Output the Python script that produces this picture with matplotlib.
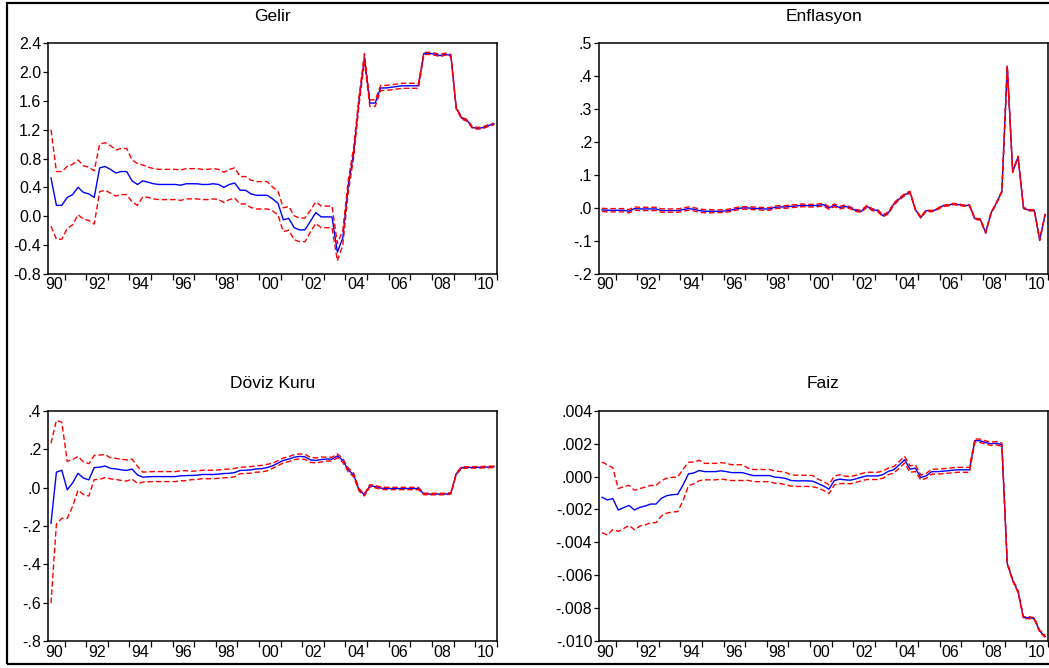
import matplotlib
matplotlib.use("Agg")
import matplotlib.pyplot as plt
import numpy as np
import pandas as pd
from matplotlib.patches import Rectangle

plt.rcParams["font.family"] = ["Liberation Sans", "DejaVu Sans"]

# quarterly sample 1990Q2 - 2010Q4 (recursive coefficient estimates)
quarters = pd.period_range("1990Q2", "2010Q4", freq="Q")

gelir = [0.53, 0.15, 0.15, 0.26, 0.30, 0.40, 0.33, 0.31, 0.26, 0.67,
         0.69, 0.65, 0.60, 0.62, 0.62, 0.49, 0.44, 0.49, 0.47, 0.45,
         0.44, 0.44, 0.44, 0.44, 0.43, 0.45, 0.45, 0.45, 0.44, 0.44,
         0.45, 0.44, 0.40, 0.44, 0.46, 0.36, 0.36, 0.31, 0.29, 0.29,
         0.29, 0.24, 0.18, -0.05, -0.03, -0.16, -0.19, -0.19, -0.07, 0.05,
         -0.01, -0.01, -0.01, -0.50, -0.30, 0.41, 0.88, 1.60, 2.20, 1.57,
         1.57, 1.78, 1.78, 1.79, 1.80, 1.81, 1.81, 1.81, 1.81, 2.26,
         2.26, 2.25, 2.23, 2.25, 2.23, 1.50, 1.36, 1.33, 1.23, 1.22,
         1.23, 1.26, 1.28]
gelir_2se = [0.67, 0.47, 0.47, 0.43, 0.42, 0.38, 0.37, 0.37, 0.37, 0.33,
             0.33, 0.33, 0.32, 0.32, 0.32, 0.29, 0.29, 0.22, 0.21, 0.21,
             0.21, 0.21, 0.21, 0.21, 0.21, 0.21, 0.21, 0.21, 0.21, 0.21,
             0.21, 0.21, 0.21, 0.21, 0.21, 0.19, 0.19, 0.19, 0.19, 0.19,
             0.19, 0.165, 0.165, 0.165, 0.165, 0.165, 0.165, 0.165, 0.15, 0.15,
             0.15, 0.15, 0.15, 0.12, 0.10, 0.08, 0.07, 0.06, 0.055, 0.046,
             0.045, 0.035, 0.035, 0.035, 0.035, 0.035, 0.035, 0.035, 0.035, 0.015,
             0.015, 0.015, 0.015, 0.015, 0.015, 0.012, 0.012, 0.012, 0.012, 0.012,
             0.012, 0.012, 0.012]

enflasyon = [-0.006, -0.007, -0.007, -0.007, -0.007, -0.010, -0.002, -0.003, -0.003, -0.003,
             -0.003, -0.008, -0.008, -0.008, -0.008, -0.005, -0.002, -0.004, -0.008, -0.010,
             -0.010, -0.010, -0.010, -0.009, -0.006, -0.002, 0.000, 0.000, -0.001, -0.002,
             -0.003, -0.003, 0.002, 0.003, 0.003, 0.005, 0.006, 0.008, 0.007, 0.007,
             0.008, 0.010, 0.000, 0.008, 0.001, 0.005, 0.000, -0.008, -0.010, 0.005,
             -0.005, -0.008, -0.024, -0.015, 0.012, 0.027, 0.040, 0.048, -0.005, -0.029,
             -0.008, -0.010, -0.004, 0.006, 0.008, 0.012, 0.010, 0.007, 0.008, -0.033,
             -0.035, -0.075, -0.015, 0.015, 0.050, 0.430, 0.110, 0.155, 0.000, -0.007,
             -0.007, -0.097, -0.020]
enflasyon_2se = [0.005] * 21 + [0.004] * 25 + [0.003] * 12 + [0.002] * 25

doviz = [-0.186, 0.080, 0.090, -0.012, 0.024, 0.074, 0.049, 0.040, 0.104, 0.106,
         0.112, 0.100, 0.097, 0.092, 0.089, 0.096, 0.066, 0.054, 0.056, 0.057,
         0.057, 0.057, 0.057, 0.057, 0.061, 0.062, 0.063, 0.064, 0.068, 0.068,
         0.068, 0.070, 0.073, 0.074, 0.078, 0.089, 0.090, 0.092, 0.097, 0.098,
         0.104, 0.113, 0.127, 0.141, 0.148, 0.158, 0.162, 0.160, 0.144, 0.141,
         0.146, 0.148, 0.148, 0.165, 0.141, 0.092, 0.066, -0.012, -0.038, 0.009,
         0.005, -0.003, -0.005, -0.005, -0.005, -0.005, -0.005, -0.005, -0.005, -0.033,
         -0.034, -0.034, -0.034, -0.034, -0.030, 0.072, 0.104, 0.104, 0.105, 0.105,
         0.106, 0.107, 0.108]
doviz_2se = ([0.416, 0.27, 0.25, 0.148, 0.122, 0.088, 0.085, 0.084, 0.063, 0.063, 0.06]
             + [0.055] * 4 + [0.052, 0.045] + [0.026] * 9 + [0.022] * 9 + [0.017] * 6
             + [0.013] * 10 + [0.010] * 6 + [0.006] * 12 + [0.004] * 14)

# faiz in thousandths
faiz = [-1.26, -1.42, -1.34, -2.03, -1.89, -1.75, -2.03, -1.87, -1.79, -1.67,
        -1.67, -1.32, -1.16, -1.10, -1.08, -0.51, 0.16, 0.22, 0.37, 0.30,
        0.30, 0.30, 0.35, 0.30, 0.24, 0.24, 0.24, 0.14, 0.06, 0.06,
        0.06, 0.06, -0.04, -0.06, -0.12, -0.24, -0.26, -0.26, -0.26, -0.28,
        -0.43, -0.57, -0.77, -0.24, -0.16, -0.20, -0.22, -0.14, -0.04, 0.04,
        0.04, 0.04, 0.12, 0.32, 0.41, 0.71, 1.02, 0.45, 0.51, -0.06,
        0.04, 0.30, 0.30, 0.32, 0.35, 0.39, 0.41, 0.41, 0.41, 2.19,
        2.17, 2.07, 1.99, 2.03, 1.93, -5.28, -6.29, -7.00, -8.57, -8.57,
        -8.63, -9.38, -9.71]
faiz_2se = ([2.15, 2.13, 1.88, 1.30, 1.27, 1.22, 1.20, 1.14, 1.15, 1.13, 1.13,
             1.07, 1.06, 1.05, 1.05, 0.95, 0.71, 0.66, 0.62]
            + [0.50] * 5 + [0.48] * 3 + [0.37] * 8 + [0.34] * 5 + [0.27] * 5
            + [0.22] * 8 + [0.20] * 6 + [0.15] * 10 + [0.10] * 6 + [0.06] * 8)

year_labels = ["90", "92", "94", "96", "98", "00", "02", "04", "06", "08", "10"]
gelir_ticks = [2.4, 2.0, 1.6, 1.2, 0.8, 0.4, 0.0, -0.4, -0.8]
gelir_ticklabels = ["2.4", "2.0", "1.6", "1.2", "0.8", "0.4", "0.0", "-0.4", "-0.8"]
enf_ticks = [0.5, 0.4, 0.3, 0.2, 0.1, 0.0, -0.1, -0.2]
enf_ticklabels = [".5", ".4", ".3", ".2", ".1", ".0", "-.1", "-.2"]
dov_ticks = [0.4, 0.2, 0.0, -0.2, -0.4, -0.6, -0.8]
dov_ticklabels = [".4", ".2", ".0", "-.2", "-.4", "-.6", "-.8"]
faiz_ticks = [0.004, 0.002, 0.0, -0.002, -0.004, -0.006, -0.008, -0.010]
faiz_ticklabels = [".004", ".002", ".000", "-.002", "-.004", "-.006", "-.008", "-.010"]

W, H = 1049, 668
x = quarters.year + (quarters.quarter - 1) / 4 + 0.125

fig = plt.figure(figsize=(W / 100, H / 100), dpi=100)

panels = [
    ("Gelir", np.array(gelir), np.array(gelir_2se), gelir_ticks, gelir_ticklabels, 48.3, 43.3),
    ("Enflasyon", np.array(enflasyon), np.array(enflasyon_2se), enf_ticks, enf_ticklabels, 599.3, 43.3),
    ("Döviz Kuru", np.array(doviz), np.array(doviz_2se), dov_ticks, dov_ticklabels, 48.3, 410.7),
    ("Faiz", np.array(faiz) / 1000, np.array(faiz_2se) / 1000, faiz_ticks, faiz_ticklabels, 599.3, 410.7),
]

for title, est, se2, yt, ytl, left_px, top_px in panels:
    ax = fig.add_axes([left_px / W, 1 - (top_px + 230.5) / H, 448.5 / W, 230.5 / H])
    ax.plot(x, est, color="#0000FF", lw=1.0)
    ax.plot(x, est + se2, color="#FF0000", lw=1.0, dashes=(4, 2))
    ax.plot(x, est - se2, color="#FF0000", lw=1.0, dashes=(4, 2))
    ax.set_xlim(1990.25, 2011.0)
    ax.set_ylim(min(yt), max(yt))
    ax.set_yticks(yt)
    ax.set_yticklabels(ytl)
    ax.set_xticks(np.arange(1991, 2012))
    ax.set_xticklabels([])
    ax.set_xticks(np.arange(1990, 2011, 2) + 0.5, minor=True)
    ax.set_xticklabels(year_labels, minor=True)
    ax.tick_params(axis="x", which="major", direction="out", length=4.5, width=0.9)
    ax.tick_params(axis="x", which="minor", length=0, pad=2.5, labelsize=11.5)
    ax.tick_params(axis="y", direction="out", length=3.5, width=0.9, pad=1.5, labelsize=11.5)
    for s in ax.spines.values():
        s.set_linewidth(1.1)
    ax.set_title(title, fontsize=12.5, pad=16)

fig.add_artist(Rectangle((7 / W, (H - 664) / H), (W + 20) / W, 661 / H,
                         transform=fig.transFigure, fill=False, lw=1.6, ec="black"))

fig.savefig("out.png", dpi=100)
